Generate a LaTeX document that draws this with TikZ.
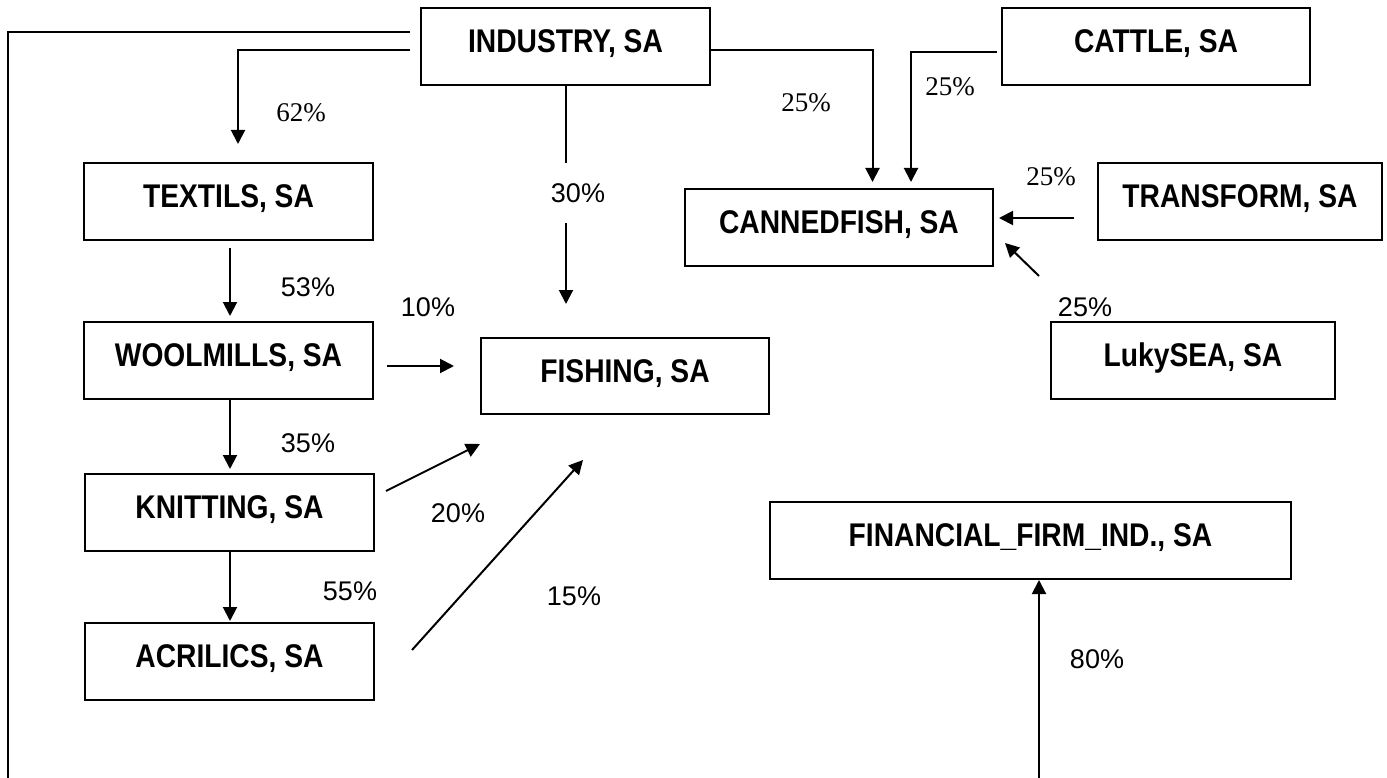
\documentclass[tikz,border=0pt]{standalone}
\usepackage{fontspec}
\usetikzlibrary{arrows.meta}
\newfontfamily\boxfont{Liberation Sans}[FakeStretch=0.86]
\newfontfamily\serifl{Liberation Serif}
\newfontfamily\sansl{Liberation Sans}
\begin{document}
\begin{tikzpicture}[x=1pt,y=-1pt,
  firm/.style={draw, line width=2pt, inner sep=0pt, minimum height=77pt,
    text height=24pt, text depth=12pt, font=\boxfont\bfseries\fontsize{32.8}{36}\selectfont},
  arr/.style={line width=2pt, -{Triangle[length=14pt,width=14pt]}},
  conn/.style={line width=2pt},
  pcs/.style={font=\serifl\fontsize{27}{30}\selectfont, inner sep=0pt},
  pcn/.style={font=\sansl\fontsize{27}{30}\selectfont, inner sep=0pt}]
\useasboundingbox[fill=white] (0,0) rectangle (1387,778);
% boxes
\node[firm, minimum width=289pt] (ind) at (565.5,46.5) {INDUSTRY, SA};
\node[firm, minimum width=289pt] (tex) at (228.5,201.5) {TEXTILS, SA};
\node[firm, minimum width=289pt] (wool) at (228.5,360.5) {WOOLMILLS, SA};
\node[firm, minimum width=289pt] (knit) at (229.5,512.5) {KNITTING, SA};
\node[firm, minimum width=289pt] (acr) at (229.5,661.5) {ACRILICS, SA};
\node[firm, minimum width=288pt, minimum height=76pt] (fish) at (625,376) {FISHING, SA};
\node[firm, minimum width=308pt] (cattle) at (1156,46.5) {CATTLE, SA};
\node[firm, minimum width=308pt] (canned) at (839,227.5) {CANNEDFISH, SA};
\node[firm, minimum width=284pt] (trans) at (1240,201.5) {TRANSFORM, SA};
\node[firm, minimum width=284pt] (luky) at (1193,360.5) {LukySEA, SA};
\node[firm, minimum width=521pt] (fin) at (1030.5,540.5) {FINANCIAL\_FIRM\_IND., SA};
% labels
\node[pcs] (l62) at (301,113) {62\%};
\node[pcn] (l53) at (308,287) {53\%};
\node[pcn] (l10) at (428,307) {10\%};
\node[pcn, minimum height=60pt] (l30) at (578,193) {30\%};
\node[pcn] (l35) at (308,443) {35\%};
\node[pcn] (l20) at (458,513) {20\%};
\node[pcn] (l55) at (350,591) {55\%};
\node[pcn] (l15) at (574,596) {15\%};
\node[pcs] (l25a) at (806,103) {25\%};
\node[pcs] (l25b) at (950,87) {25\%};
\node[pcs] (l25c) at (1051,177) {25\%};
\node[pcn] (l25d) at (1085,307) {25\%};
\node[pcn] (l80) at (1097,659) {80\%};
\coordinate (bl) at (8,778);
\coordinate (finsrc) at (1039,778);
% connectors
\draw[conn] ([xshift=-10pt,yshift=14.5pt]ind.west) -| (bl);
\draw[arr] ([xshift=-10pt,yshift=-3.5pt]ind.west) -| ([xshift=9.5pt,yshift=18pt]tex.north);
\draw[arr] ([xshift=1.5pt,yshift=-7pt]tex.south) -- ([xshift=1.5pt,yshift=5pt]wool.north);
\draw[arr] ([xshift=13pt,yshift=-5.5pt]wool.east) -- ([xshift=-26pt,yshift=10pt]fish.west);
\draw[conn] ([xshift=0.5pt]ind.south) -- ([xshift=-12pt]l30.north);
\draw[arr] ([xshift=-12pt]l30.south) -- ([xshift=-59pt,yshift=33pt]fish.north);
\draw[arr] ([xshift=1.5pt]wool.south) -- ([xshift=0.5pt,yshift=4pt]knit.north);
\draw[arr] ([xshift=11pt,yshift=21.5pt]knit.east) -- ([yshift=-29pt]fish.south west);
\draw[arr] ([xshift=0.5pt]knit.south) -- ([xshift=0.5pt,yshift=1pt]acr.north);
\draw[arr] ([xshift=37pt,yshift=11.5pt]acr.east) -- ([xshift=-42pt,yshift=-45pt]fish.south);
\draw[arr] ([yshift=-3.5pt]ind.east) -| ([xshift=33.5pt,yshift=6pt]canned.north);
\draw[arr] ([xshift=-4pt,yshift=-5.5pt]cattle.west) -| ([xshift=72pt,yshift=6pt]canned.north);
\draw[arr] ([xshift=-23.5pt,yshift=-16.5pt]trans.west) -- ([xshift=5pt,yshift=9.5pt]canned.east);
\draw[arr] ([xshift=-11pt,yshift=45pt]luky.north west) -- ([xshift=11pt,yshift=24pt]canned.south east);
\draw[arr] (finsrc) -- ([xshift=8.5pt]fin.south);
\end{tikzpicture}
\end{document}
